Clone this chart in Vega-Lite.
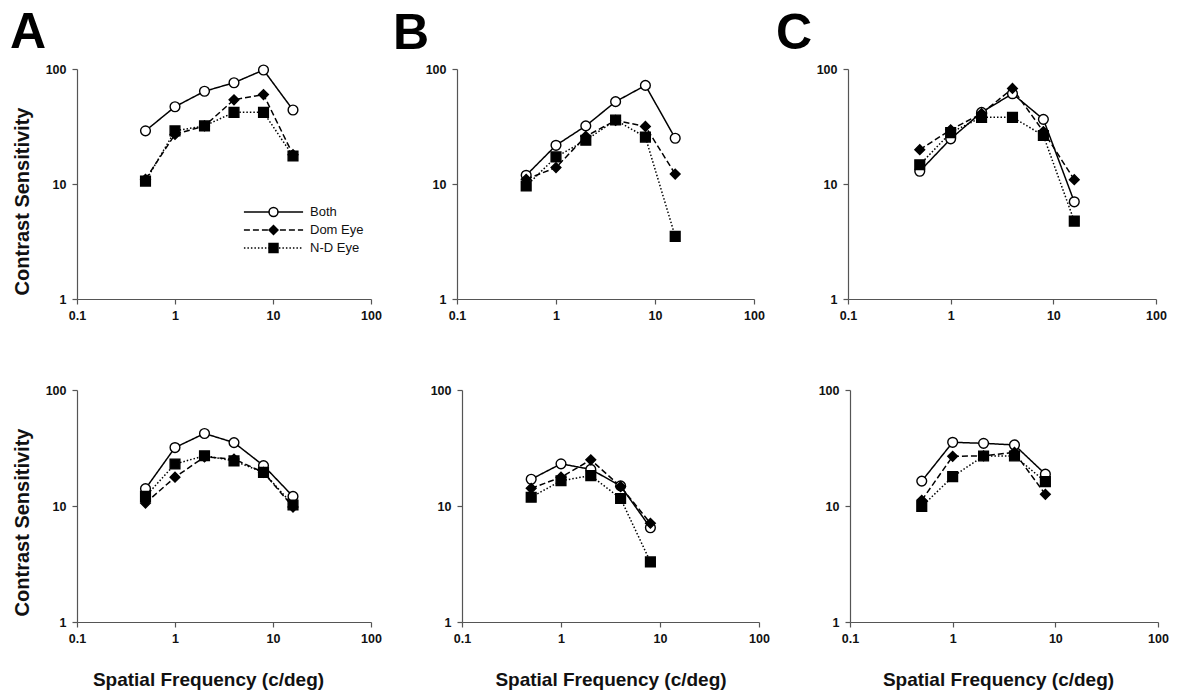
{
  "$schema": "https://vega.github.io/schema/vega-lite/v6.json",
  "padding": {"left": 10, "top": 8, "right": 5, "bottom": 5},
  "background": "white",
  "data": {"values": [
    {"panel": "A1", "series": "Both", "f": 0.5, "cs": 29},
    {"panel": "A1", "series": "Both", "f": 1, "cs": 47},
    {"panel": "A1", "series": "Both", "f": 2, "cs": 64},
    {"panel": "A1", "series": "Both", "f": 4, "cs": 76},
    {"panel": "A1", "series": "Both", "f": 8, "cs": 98},
    {"panel": "A1", "series": "Both", "f": 16, "cs": 44},
    {"panel": "A1", "series": "Dom Eye", "f": 0.5, "cs": 11},
    {"panel": "A1", "series": "Dom Eye", "f": 1, "cs": 27},
    {"panel": "A1", "series": "Dom Eye", "f": 2, "cs": 32},
    {"panel": "A1", "series": "Dom Eye", "f": 4, "cs": 54},
    {"panel": "A1", "series": "Dom Eye", "f": 8, "cs": 60},
    {"panel": "A1", "series": "Dom Eye", "f": 16, "cs": 18},
    {"panel": "A1", "series": "N-D Eye", "f": 0.5, "cs": 10.6},
    {"panel": "A1", "series": "N-D Eye", "f": 1, "cs": 29},
    {"panel": "A1", "series": "N-D Eye", "f": 2, "cs": 32},
    {"panel": "A1", "series": "N-D Eye", "f": 4, "cs": 42},
    {"panel": "A1", "series": "N-D Eye", "f": 8, "cs": 42},
    {"panel": "A1", "series": "N-D Eye", "f": 16, "cs": 17.5},
    {"panel": "B1", "series": "Both", "f": 0.5, "cs": 11.9},
    {"panel": "B1", "series": "Both", "f": 1, "cs": 21.7},
    {"panel": "B1", "series": "Both", "f": 2, "cs": 32},
    {"panel": "B1", "series": "Both", "f": 4, "cs": 52},
    {"panel": "B1", "series": "Both", "f": 8, "cs": 72},
    {"panel": "B1", "series": "Both", "f": 16, "cs": 25},
    {"panel": "B1", "series": "Dom Eye", "f": 0.5, "cs": 11},
    {"panel": "B1", "series": "Dom Eye", "f": 1, "cs": 13.9},
    {"panel": "B1", "series": "Dom Eye", "f": 2, "cs": 26},
    {"panel": "B1", "series": "Dom Eye", "f": 4, "cs": 35.7},
    {"panel": "B1", "series": "Dom Eye", "f": 8, "cs": 31.7},
    {"panel": "B1", "series": "Dom Eye", "f": 16, "cs": 12.2},
    {"panel": "B1", "series": "N-D Eye", "f": 0.5, "cs": 9.6},
    {"panel": "B1", "series": "N-D Eye", "f": 1, "cs": 17.2},
    {"panel": "B1", "series": "N-D Eye", "f": 2, "cs": 24},
    {"panel": "B1", "series": "N-D Eye", "f": 4, "cs": 36},
    {"panel": "B1", "series": "N-D Eye", "f": 8, "cs": 25.6},
    {"panel": "B1", "series": "N-D Eye", "f": 16, "cs": 3.5},
    {"panel": "C1", "series": "Both", "f": 0.5, "cs": 12.9},
    {"panel": "C1", "series": "Both", "f": 1, "cs": 24.7},
    {"panel": "C1", "series": "Both", "f": 2, "cs": 42},
    {"panel": "C1", "series": "Both", "f": 4, "cs": 61},
    {"panel": "C1", "series": "Both", "f": 8, "cs": 36.5},
    {"panel": "C1", "series": "Both", "f": 16, "cs": 7.0},
    {"panel": "C1", "series": "Dom Eye", "f": 0.5, "cs": 19.9},
    {"panel": "C1", "series": "Dom Eye", "f": 1, "cs": 29.6},
    {"panel": "C1", "series": "Dom Eye", "f": 2, "cs": 41},
    {"panel": "C1", "series": "Dom Eye", "f": 4, "cs": 67.7},
    {"panel": "C1", "series": "Dom Eye", "f": 8, "cs": 28.6},
    {"panel": "C1", "series": "Dom Eye", "f": 16, "cs": 10.9},
    {"panel": "C1", "series": "N-D Eye", "f": 0.5, "cs": 14.7},
    {"panel": "C1", "series": "N-D Eye", "f": 1, "cs": 28},
    {"panel": "C1", "series": "N-D Eye", "f": 2, "cs": 38},
    {"panel": "C1", "series": "N-D Eye", "f": 4, "cs": 38},
    {"panel": "C1", "series": "N-D Eye", "f": 8, "cs": 26.4},
    {"panel": "C1", "series": "N-D Eye", "f": 16, "cs": 4.75},
    {"panel": "A2", "series": "Both", "f": 0.5, "cs": 14.1},
    {"panel": "A2", "series": "Both", "f": 1, "cs": 31.9},
    {"panel": "A2", "series": "Both", "f": 2, "cs": 42.2},
    {"panel": "A2", "series": "Both", "f": 4, "cs": 35.2},
    {"panel": "A2", "series": "Both", "f": 8, "cs": 22.3},
    {"panel": "A2", "series": "Both", "f": 16, "cs": 12.1},
    {"panel": "A2", "series": "Dom Eye", "f": 0.5, "cs": 10.6},
    {"panel": "A2", "series": "Dom Eye", "f": 1, "cs": 17.7},
    {"panel": "A2", "series": "Dom Eye", "f": 2, "cs": 26.5},
    {"panel": "A2", "series": "Dom Eye", "f": 4, "cs": 25.4},
    {"panel": "A2", "series": "Dom Eye", "f": 8, "cs": 19.5},
    {"panel": "A2", "series": "Dom Eye", "f": 16, "cs": 9.8},
    {"panel": "A2", "series": "N-D Eye", "f": 0.5, "cs": 12.1},
    {"panel": "A2", "series": "N-D Eye", "f": 1, "cs": 23},
    {"panel": "A2", "series": "N-D Eye", "f": 2, "cs": 27.1},
    {"panel": "A2", "series": "N-D Eye", "f": 4, "cs": 24.5},
    {"panel": "A2", "series": "N-D Eye", "f": 8, "cs": 19.5},
    {"panel": "A2", "series": "N-D Eye", "f": 16, "cs": 10.2},
    {"panel": "B2", "series": "Both", "f": 0.5, "cs": 17},
    {"panel": "B2", "series": "Both", "f": 1, "cs": 23.1},
    {"panel": "B2", "series": "Both", "f": 2, "cs": 20.7},
    {"panel": "B2", "series": "Both", "f": 4, "cs": 14.9},
    {"panel": "B2", "series": "Both", "f": 8, "cs": 6.5},
    {"panel": "B2", "series": "Dom Eye", "f": 0.5, "cs": 14.2},
    {"panel": "B2", "series": "Dom Eye", "f": 1, "cs": 17.7},
    {"panel": "B2", "series": "Dom Eye", "f": 2, "cs": 25},
    {"panel": "B2", "series": "Dom Eye", "f": 4, "cs": 14.7},
    {"panel": "B2", "series": "Dom Eye", "f": 8, "cs": 7.1},
    {"panel": "B2", "series": "N-D Eye", "f": 0.5, "cs": 11.9},
    {"panel": "B2", "series": "N-D Eye", "f": 1, "cs": 16.5},
    {"panel": "B2", "series": "N-D Eye", "f": 2, "cs": 18.3},
    {"panel": "B2", "series": "N-D Eye", "f": 4, "cs": 11.6},
    {"panel": "B2", "series": "N-D Eye", "f": 8, "cs": 3.3},
    {"panel": "C2", "series": "Both", "f": 0.5, "cs": 16.4},
    {"panel": "C2", "series": "Both", "f": 1, "cs": 35.4},
    {"panel": "C2", "series": "Both", "f": 2, "cs": 34.7},
    {"panel": "C2", "series": "Both", "f": 4, "cs": 33.6},
    {"panel": "C2", "series": "Both", "f": 8, "cs": 18.8},
    {"panel": "C2", "series": "Dom Eye", "f": 0.5, "cs": 11.2},
    {"panel": "C2", "series": "Dom Eye", "f": 1, "cs": 26.8},
    {"panel": "C2", "series": "Dom Eye", "f": 2, "cs": 27.1},
    {"panel": "C2", "series": "Dom Eye", "f": 4, "cs": 29},
    {"panel": "C2", "series": "Dom Eye", "f": 8, "cs": 12.6},
    {"panel": "C2", "series": "N-D Eye", "f": 0.5, "cs": 9.9},
    {"panel": "C2", "series": "N-D Eye", "f": 1, "cs": 17.9},
    {"panel": "C2", "series": "N-D Eye", "f": 2, "cs": 27},
    {"panel": "C2", "series": "N-D Eye", "f": 4, "cs": 27},
    {"panel": "C2", "series": "N-D Eye", "f": 8, "cs": 16.2}
  ]},
  "config": {
    "view": {"stroke": null},
    "font": "Liberation Sans",
    "axis": {
      "grid": false,
      "labelFont": "Liberation Sans",
      "labelFontSize": 12.5,
      "labelFontWeight": "bold",
      "labelColor": "#111",
      "domainColor": "#555",
      "domainWidth": 1.2,
      "tickColor": "#555",
      "tickWidth": 1.2,
      "tickSize": 5,
      "labelFlush": false,
      "labelOverlap": false,
      "titleFont": "Liberation Sans",
      "titleFontSize": 19,
      "titleFontWeight": "bold",
      "titleColor": "#111"
    },
    "title": {"font": "Liberation Sans", "fontSize": 50, "fontWeight": "bold", "color": "#000", "anchor": "start", "frame": "group", "offset": 4}
  },
  "spacing": 62,
  "vconcat": [
    {
      "spacing": 11,
      "hconcat": [
        {
          "width": 294, "height": 230,
          "title": {"text": "A", "dx": -67},
          "transform": [{"filter": "datum.panel === 'A1'"}],
          "encoding": {
            "x": {"field": "f", "type": "quantitative", "scale": {"type": "log", "domain": [0.1, 100]}, "axis": {"values": [0.1, 1, 10, 100], "format": "~g", "title": null, "labelPadding": 5}},
            "y": {"field": "cs", "type": "quantitative", "scale": {"type": "log", "domain": [1, 100]}, "axis": {"values": [1, 10, 100], "format": "~g", "title": "Contrast Sensitivity", "titleFontSize": 20, "titlePadding": 13, "titleY": 132, "labelPadding": 6}}
          },
          "layer": [
            {"mark": {"type": "line", "color": "black", "strokeWidth": 1.5},
             "encoding": {"strokeDash": {"field": "series", "type": "nominal", "scale": {"domain": ["Both", "Dom Eye", "N-D Eye"], "range": [[1, 0], [6, 3], [1.5, 2]]},
               "legend": {"title": null, "orient": "none", "legendX": 166, "legendY": 134, "symbolType": "stroke", "symbolSize": 3500, "symbolStrokeWidth": 1.3, "symbolStrokeColor": "black", "clipHeight": 18, "rowPadding": 0, "padding": 0, "labelFont": "Liberation Sans", "labelFontSize": 13, "labelColor": "#111", "labelOffset": 6}}}},
            {"mark": {"type": "point", "filled": true, "stroke": "black", "strokeWidth": 1.4, "opacity": 1, "size": 95},
             "encoding": {
               "shape": {"field": "series", "type": "nominal", "scale": {"range": ["circle", "diamond", "square"]},
                 "legend": {"title": null, "orient": "none", "legendX": 166, "legendY": 134, "symbolSize": 80, "symbolOffset": 25, "clipHeight": 18, "rowPadding": 0, "padding": 0, "labelExpr": "''", "labelOffset": 0,
                   "encode": {"symbols": {"update": {"stroke": {"value": "black"}, "strokeWidth": {"value": 1.3}}}}}},
               "fill": {"field": "series", "type": "nominal", "scale": {"range": ["white", "black", "black"]},
                 "legend": {"title": null, "orient": "none", "legendX": 166, "legendY": 134, "symbolSize": 80, "symbolOffset": 25, "clipHeight": 18, "rowPadding": 0, "padding": 0, "labelExpr": "''", "labelOffset": 0,
                   "encode": {"symbols": {"update": {"stroke": {"value": "black"}, "strokeWidth": {"value": 1.3}}}}}}
             }}
          ]
        },
        {
          "width": 297, "height": 230,
          "title": {"text": "B", "dx": -64},
          "transform": [{"filter": "datum.panel === 'B1'"}],
          "encoding": {
            "x": {"field": "f", "type": "quantitative", "scale": {"type": "log", "domain": [0.1, 100]}, "axis": {"values": [0.1, 1, 10, 100], "format": "~g", "title": null, "labelPadding": 5}},
            "y": {"field": "cs", "type": "quantitative", "scale": {"type": "log", "domain": [1, 100]}, "axis": {"values": [1, 10, 100], "format": "~g", "title": null, "labelPadding": 6}}
          },
          "layer": [
            {"mark": {"type": "line", "color": "black", "strokeWidth": 1.5},
             "encoding": {"strokeDash": {"field": "series", "type": "nominal"}}},
            {"mark": {"type": "point", "filled": true, "stroke": "black", "strokeWidth": 1.4, "opacity": 1, "size": 95},
             "encoding": {"shape": {"field": "series", "type": "nominal"}, "fill": {"field": "series", "type": "nominal"}}}
          ]
        },
        {
          "width": 308, "height": 230,
          "title": {"text": "C", "dx": -72},
          "transform": [{"filter": "datum.panel === 'C1'"}],
          "encoding": {
            "x": {"field": "f", "type": "quantitative", "scale": {"type": "log", "domain": [0.1, 100]}, "axis": {"values": [0.1, 1, 10, 100], "format": "~g", "title": null, "labelPadding": 5}},
            "y": {"field": "cs", "type": "quantitative", "scale": {"type": "log", "domain": [1, 100]}, "axis": {"values": [1, 10, 100], "format": "~g", "title": null, "labelPadding": 6}}
          },
          "layer": [
            {"mark": {"type": "line", "color": "black", "strokeWidth": 1.5},
             "encoding": {"strokeDash": {"field": "series", "type": "nominal"}}},
            {"mark": {"type": "point", "filled": true, "stroke": "black", "strokeWidth": 1.4, "opacity": 1, "size": 95},
             "encoding": {"shape": {"field": "series", "type": "nominal"}, "fill": {"field": "series", "type": "nominal"}}}
          ]
        }
      ]
    },
    {
      "spacing": 48,
      "hconcat": [
        {
          "width": 294, "height": 232,
          "transform": [{"filter": "datum.panel === 'A2'"}],
          "encoding": {
            "x": {"field": "f", "type": "quantitative", "scale": {"type": "log", "domain": [0.1, 100]}, "axis": {"values": [0.1, 1, 10, 100], "format": "~g", "title": "Spatial Frequency (c/deg)", "titlePadding": 26, "titleX": 131, "labelPadding": 5}},
            "y": {"field": "cs", "type": "quantitative", "scale": {"type": "log", "domain": [1, 100]}, "axis": {"values": [1, 10, 100], "format": "~g", "title": "Contrast Sensitivity", "titleFontSize": 20, "titlePadding": 13, "titleY": 132, "labelPadding": 6}}
          },
          "layer": [
            {"mark": {"type": "line", "color": "black", "strokeWidth": 1.5},
             "encoding": {"strokeDash": {"field": "series", "type": "nominal"}}},
            {"mark": {"type": "point", "filled": true, "stroke": "black", "strokeWidth": 1.4, "opacity": 1, "size": 95},
             "encoding": {"shape": {"field": "series", "type": "nominal"}, "fill": {"field": "series", "type": "nominal"}}}
          ]
        },
        {
          "width": 297, "height": 232,
          "transform": [{"filter": "datum.panel === 'B2'"}],
          "encoding": {
            "x": {"field": "f", "type": "quantitative", "scale": {"type": "log", "domain": [0.1, 100]}, "axis": {"values": [0.1, 1, 10, 100], "format": "~g", "title": "Spatial Frequency (c/deg)", "titlePadding": 26, "labelPadding": 5}},
            "y": {"field": "cs", "type": "quantitative", "scale": {"type": "log", "domain": [1, 100]}, "axis": {"values": [1, 10, 100], "format": "~g", "title": null, "labelPadding": 6}}
          },
          "layer": [
            {"mark": {"type": "line", "color": "black", "strokeWidth": 1.5},
             "encoding": {"strokeDash": {"field": "series", "type": "nominal"}}},
            {"mark": {"type": "point", "filled": true, "stroke": "black", "strokeWidth": 1.4, "opacity": 1, "size": 95},
             "encoding": {"shape": {"field": "series", "type": "nominal"}, "fill": {"field": "series", "type": "nominal"}}}
          ]
        },
        {
          "width": 308, "height": 232,
          "transform": [{"filter": "datum.panel === 'C2'"}],
          "encoding": {
            "x": {"field": "f", "type": "quantitative", "scale": {"type": "log", "domain": [0.1, 100]}, "axis": {"values": [0.1, 1, 10, 100], "format": "~g", "title": "Spatial Frequency (c/deg)", "titlePadding": 26, "titleX": 148, "labelPadding": 5}},
            "y": {"field": "cs", "type": "quantitative", "scale": {"type": "log", "domain": [1, 100]}, "axis": {"values": [1, 10, 100], "format": "~g", "title": null, "labelPadding": 6}}
          },
          "layer": [
            {"mark": {"type": "line", "color": "black", "strokeWidth": 1.5},
             "encoding": {"strokeDash": {"field": "series", "type": "nominal"}}},
            {"mark": {"type": "point", "filled": true, "stroke": "black", "strokeWidth": 1.4, "opacity": 1, "size": 95},
             "encoding": {"shape": {"field": "series", "type": "nominal"}, "fill": {"field": "series", "type": "nominal"}}}
          ]
        }
      ]
    }
  ]
}
